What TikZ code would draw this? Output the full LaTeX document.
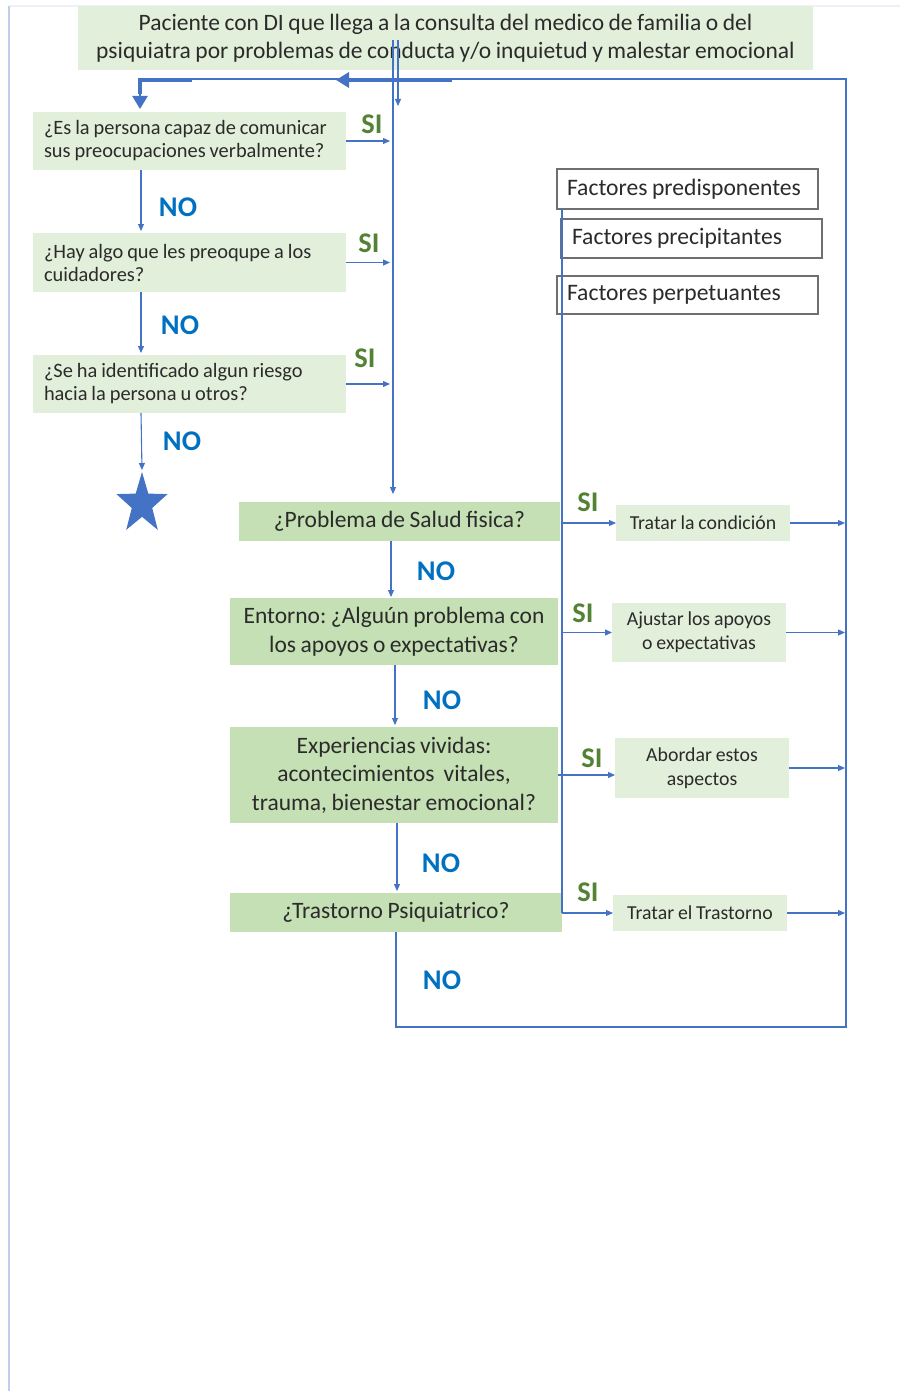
\documentclass[tikz,border=0pt]{standalone}
\usepackage{fontspec}
\setmainfont[WordSpace=0.85]{Carlito}
\usetikzlibrary{arrows.meta,calc}
\definecolor{lightgreen}{HTML}{E2EFDA}
\definecolor{midgreen}{HTML}{C5E0B4}
\definecolor{flowblue}{HTML}{4472C4}
\definecolor{yesgreen}{HTML}{548235}
\definecolor{noblue}{HTML}{0070C0}
\definecolor{ink}{HTML}{2B2B2B}
\definecolor{edgeleft}{HTML}{C3CDEB}
\definecolor{edgetop}{HTML}{EEF0FA}
\definecolor{framegray}{HTML}{6F6F6F}

\begin{document}
\frenchspacing
\begin{tikzpicture}[x=1pt,y=-1pt,
  every node/.style={inner sep=0pt, outer sep=0pt, text=ink},
  box/.style={draw=none, anchor=north west},
  lightbox/.style={box, fill=lightgreen},
  mainbox/.style={box, fill=midgreen, align=flush center, font=\fontsize{23.5}{28.5}\selectfont},
  askbox/.style={lightbox, align=flush left, inner xsep=11pt, text width=291pt, font=\fontsize{20.4}{23}\selectfont},
  treatbox/.style={lightbox, align=flush center, font=\fontsize{19.8}{24}\selectfont},
  factorbox/.style={box, draw=framegray, line width=1.3pt, fill=white, align=flush left, font=\fontsize{23.6}{24}\selectfont},
  yes/.style={text=yesgreen, font=\bfseries\fontsize{28.5}{28.5}\selectfont},
  no/.style={text=noblue, font=\bfseries\fontsize{28.5}{28.5}\selectfont},
  wire/.style={draw=flowblue, line width=1.1pt},
  flow/.style={wire, -{Triangle[length=7pt,width=6pt]}},
  heavy/.style={draw=flowblue, line width=4pt},
  heavyflow/.style={heavy, -{Triangle[length=13pt,width=15pt]}}
]
\useasboundingbox (0,0) rectangle (900,1391);

% page edges
\draw[edgetop, line width=1.5pt] (9,6) -- (900,6);
\draw[edgeleft, line width=1.5pt] (9,6) -- (9,1391);

% entry box
\node[lightbox, minimum width=735pt, minimum height=64pt, align=flush center,
      font=\fontsize{23.5}{28}\selectfont] (top) at (78,6)
  {Paciente con DI que llega a la consulta del medico de familia o del\\
   psiquiatra por problemas de conducta y/o inquietud y malestar emocional};

% screening questions
\node[askbox, minimum height=58pt] (q1) at (33,112)
  {¿Es la persona capaz de comunicar\\sus preocupaciones verbalmente?};
\node[askbox, minimum height=59pt] (q2) at (33,233)
  {¿Hay algo que les preoqupe a los\\cuidadores?};
\node[askbox, minimum height=58pt] (q3) at (33,355)
  {¿Se ha identificado algun riesgo\\hacia la persona u otros?};

% factor boxes
\node[factorbox, minimum width=261pt, minimum height=40pt, inner xsep=10pt, text width=241pt] (f1) at (557,169)
  {Factores predisponentes};
\node[factorbox, minimum width=261pt, minimum height=39pt, inner xsep=11pt, text width=239pt] (f2) at (561,219)
  {Factores precipitantes};
\node[factorbox, minimum width=261pt, minimum height=38pt, inner xsep=10pt, text width=241pt] (f3) at (557,276)
  {Factores perpetuantes};

% assessment boxes
\node[mainbox, minimum width=321pt, minimum height=39pt] (salud) at (239,502)
  {¿Problema de Salud fisica?};
\node[mainbox, minimum width=328pt, minimum height=67pt] (entorno) at (230,598)
  {Entorno: ¿Alguún problema con\\los apoyos o expectativas?};
\node[mainbox, minimum width=328pt, minimum height=96pt] (exper) at (230,727)
  {Experiencias vividas:\\acontecimientos\ \ vitales,\\trauma, bienestar emocional?};
\node[mainbox, minimum width=332pt, minimum height=39pt] (trast) at (230,893)
  {¿Trastorno Psiquiatrico?};

% actions
\node[treatbox, minimum width=174pt, minimum height=36pt] (t1) at (616,505)
  {Tratar la condición};
\node[treatbox, minimum width=174pt, minimum height=59pt] (t2) at (612,603)
  {Ajustar los apoyos\\o expectativas};
\node[treatbox, minimum width=174pt, minimum height=60pt] (t3) at (615,738)
  {Abordar estos\\aspectos};
\node[treatbox, minimum width=174pt, minimum height=36pt] (t4) at (613,895)
  {Tratar el Trastorno};

% answer labels
\node[yes] (y1) at (372,124) {SI};
\node[yes] (y2) at (369,243) {SI};
\node[yes] (y3) at (365,358) {SI};
\node[no]  (n1) at (178,207) {NO};
\node[no]  (n2) at (180,325) {NO};
\node[no]  (n3) at (182,441) {NO};
\node[yes] (y4) at (588,502) {SI};
\node[yes] (y5) at (583,613) {SI};
\node[yes] (y6) at (592,758) {SI};
\node[yes] (y7) at (588,892) {SI};
\node[no]  (n4) at (436,571) {NO};
\node[no]  (n5) at (442,700) {NO};
\node[no]  (n6) at (441,863) {NO};
\node[no]  (n7) at (442,980) {NO};

% star end point
\coordinate (star) at (142,470);
\fill[flowblue, shift={(142,504)}]
  (0,-32) -- (6.3,-10.4) -- (25.5,-9.9) -- (10.2,4.0) -- (15.8,25.9)
  -- (0,12.8) -- (-15.8,25.9) -- (-10.2,4.0) -- (-25.5,-9.9) -- (-6.3,-10.4) -- cycle;

% helper coordinates
\coordinate (trunkTop) at (393,40);
\coordinate (trunkEnd) at (393,494);
\coordinate (sideTop) at (398,40);
\coordinate (sideEnd) at (398,106);
\coordinate (trunkIn) at (390,0);
\coordinate (lcol) at (141,0);
\coordinate (rcol) at (845,0);
\coordinate (factorLine) at (562,913);
\coordinate (loopB) at (846,1027);
\coordinate (loopC) at (846,79);
\coordinate (loopD) at (190,79);
\coordinate (backR) at (452,80);
\coordinate (backL) at (336,80);
\coordinate (turnA) at (192,80);
\coordinate (turnB) at (140,80);
\coordinate (q1in) at (140,109);

% main trunk from the entry box
\draw[flow] (trunkTop) -- (trunkEnd);
\draw[flow] (sideTop) -- (sideEnd);

% yes branches of the screening questions
\draw[flow] (q1.east) -- (q1.east -| trunkIn);
\draw[flow] (q2.east) -- (q2.east -| trunkIn);
\draw[flow] (q3.east) -- (q3.east -| trunkIn);

% no branches of the screening questions
\draw[flow, shorten >=2pt] (q1.south -| lcol) -- (q2.north -| lcol);
\draw[flow, shorten >=2pt] (q2.south -| lcol) -- (q3.north -| lcol);
\draw[flow] (q3.south -| lcol) -- (star);

% no branches of the assessment column
\draw[flow, shorten >=1pt] (salud.south -| 391,0) -- (entorno.north -| 391,0);
\draw[flow, shorten >=2pt] (entorno.south -| 395,0) -- (exper.north -| 395,0);
\draw[flow, shorten >=2pt] (exper.south -| 397,0) -- (trast.north -| 397,0);

% factor line and yes branches to the actions
\draw[wire] (f1.south -| factorLine) -- (factorLine);
\draw[flow] (t1.west -| factorLine) -- (t1.west);
\draw[flow] (t2.west -| factorLine) -- (t2.west);
\draw[flow] (exper.east) -- (exper.east -| t3.west);
\draw[flow] (t4.west -| factorLine) -- (t4.west);

% actions feed back into the loop
\draw[flow] (t1.east) -- (t1.east -| rcol);
\draw[flow] (t2.east) -- (t2.east -| rcol);
\draw[flow] (t3.east) -- (t3.east -| rcol);
\draw[flow] (t4.east) -- (t4.east -| rcol);

% return loop to the start
\draw[wire] (trast.south) |- (loopB) -- (loopC) -- (loopD);
\draw[heavyflow] (backR) -- (backL);
\draw[heavy, line cap=butt] (turnA) -- (turnB) -- ($(turnB)+(0,14)$);
\draw[heavyflow, line width=2.5pt] ($(turnB)+(0,12)$) -- (q1in);
\end{tikzpicture}
\end{document}
